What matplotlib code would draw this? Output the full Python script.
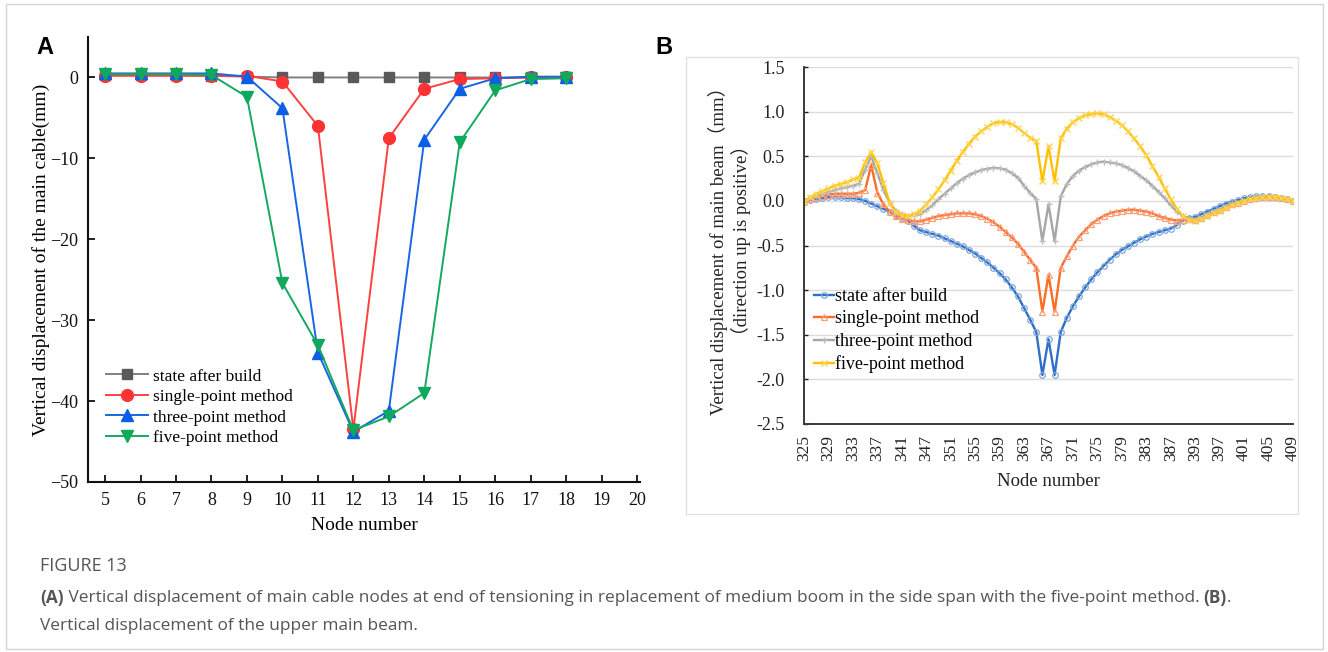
import numpy as np
import matplotlib
matplotlib.use('Agg')
import matplotlib.pyplot as plt
from matplotlib.patches import Rectangle

# ---------------- data: panel A ----------------
nodes_a = [5, 6, 7, 8, 9, 10, 11, 12, 13, 14, 15, 16, 17, 18]
a_state = [0.3, 0.3, 0.3, 0.2, 0.1, 0.0, 0.0, 0.0, 0.0, 0.0, 0.0, 0.0, 0.0, 0.0]
a_single = [0.2, 0.2, 0.2, 0.2, 0.2, -0.5, -6.0, -43.5, -7.5, -1.4, -0.2, -0.1, 0.0, 0.0]
a_three = [0.5, 0.5, 0.5, 0.5, 0.1, -3.8, -34.0, -43.8, -41.2, -7.7, -1.4, -0.1, 0.1, 0.1]
a_five = [0.4, 0.4, 0.4, 0.3, -2.4, -25.4, -33.1, -43.6, -41.9, -39.0, -8.0, -1.6, -0.2, -0.1]
a_labels = ['state after build', 'single-point method', 'three-point method', 'five-point method']

# ---------------- data: panel B ----------------
nodes_b = (list(range(325, 342)) + [343, 344, 345] + list(range(347, 388))
           + [389, 390, 391] + list(range(393, 410)))
b_ticklabels = ['325', '329', '333', '337', '341', '347', '351', '355', '359', '363', '367',
                '371', '375', '379', '383', '387', '393', '397', '401', '405', '409']
b_state = [0.00, 0.01, 0.02, 0.03, 0.04, 0.04, 0.04, 0.03, 0.03, 0.02,
           0.00, -0.03, -0.06, -0.09, -0.12, -0.16, -0.19, -0.22, -0.28, -0.33,
           -0.35, -0.37, -0.39, -0.42, -0.45, -0.48, -0.51, -0.55, -0.59, -0.64,
           -0.69, -0.75, -0.81, -0.88, -0.97, -1.07, -1.20, -1.33, -1.47, -1.95,
           -1.55, -1.95, -1.47, -1.31, -1.18, -1.07, -0.97, -0.88, -0.80, -0.73,
           -0.66, -0.60, -0.55, -0.51, -0.47, -0.43, -0.40, -0.37, -0.35, -0.33,
           -0.31, -0.27, -0.22, -0.19, -0.18, -0.15, -0.12, -0.09, -0.06, -0.03,
           -0.01, 0.01, 0.03, 0.04, 0.05, 0.05, 0.05, 0.04, 0.03, 0.02, 0.00]
b_single = [-0.01, 0.02, 0.04, 0.06, 0.07, 0.08, 0.08, 0.08, 0.08, 0.09,
            0.12, 0.40, 0.09, -0.04, -0.12, -0.17, -0.20, -0.21, -0.23, -0.23,
            -0.21, -0.19, -0.17, -0.16, -0.15, -0.14, -0.14, -0.14, -0.15, -0.17,
            -0.20, -0.24, -0.29, -0.35, -0.41, -0.48, -0.57, -0.66, -0.75, -1.24,
            -0.83, -1.24, -0.75, -0.62, -0.50, -0.40, -0.33, -0.26, -0.21, -0.17,
            -0.14, -0.12, -0.11, -0.10, -0.10, -0.11, -0.12, -0.14, -0.17, -0.19,
            -0.21, -0.22, -0.21, -0.20, -0.21, -0.19, -0.16, -0.13, -0.10, -0.07,
            -0.04, -0.02, 0.00, 0.02, 0.03, 0.04, 0.045, 0.04, 0.03, 0.02, 0.00]
b_three = [0.00, 0.03, 0.06, 0.08, 0.10, 0.12, 0.14, 0.15, 0.17, 0.19,
           0.35, 0.50, 0.31, 0.12, -0.02, -0.11, -0.15, -0.165, -0.16, -0.15,
           -0.10, -0.05, 0.02, 0.08, 0.14, 0.20, 0.25, 0.29, 0.32, 0.345,
           0.36, 0.37, 0.365, 0.35, 0.31, 0.26, 0.17, 0.09, 0.02, -0.45,
           -0.04, -0.45, 0.05, 0.19, 0.28, 0.34, 0.38, 0.41, 0.43, 0.44,
           0.43, 0.42, 0.40, 0.37, 0.33, 0.28, 0.23, 0.17, 0.10, 0.03,
           -0.05, -0.12, -0.17, -0.20, -0.21, -0.19, -0.16, -0.13, -0.10, -0.07,
           -0.04, -0.02, 0.00, 0.02, 0.03, 0.04, 0.045, 0.04, 0.03, 0.02, 0.00]
b_five = [-0.01, 0.04, 0.08, 0.11, 0.14, 0.17, 0.19, 0.21, 0.24, 0.26,
          0.43, 0.55, 0.42, 0.20, -0.02, -0.12, -0.16, -0.165, -0.15, -0.11,
          -0.04, 0.04, 0.13, 0.23, 0.34, 0.45, 0.55, 0.64, 0.72, 0.78,
          0.83, 0.87, 0.885, 0.88, 0.86, 0.82, 0.76, 0.71, 0.67, 0.22,
          0.61, 0.22, 0.70, 0.81, 0.88, 0.93, 0.96, 0.975, 0.98, 0.97,
          0.94, 0.90, 0.85, 0.78, 0.70, 0.61, 0.51, 0.39, 0.27, 0.14,
          0.02, -0.09, -0.17, -0.21, -0.22, -0.20, -0.17, -0.14, -0.11, -0.08,
          -0.05, -0.02, 0.00, 0.02, 0.03, 0.04, 0.045, 0.04, 0.03, 0.02, 0.00]
b_labels = ['state after build', 'single-point method', 'three-point method', 'five-point method']

caption_title = 'FIGURE 13'
caption_parts = [('(A)', 'bold'),
                 (' Vertical displacement of main cable nodes at end of tensioning in replacement of medium boom in the side span with the five-point method. ', 'normal'),
                 ('(B)', 'bold'), ('.', 'normal')]
caption_line2 = 'Vertical displacement of the upper main beam.'

# ---------------- figure ----------------
W, H = 1328, 652
fig = plt.figure(figsize=(W / 100, H / 100), dpi=100)
fig.patch.set_facecolor('white')


def fx(px):
    return px / W


def fy(py):
    return 1 - py / H


SERIF = ['Liberation Serif', 'DejaVu Serif']
plt.rcParams['font.family'] = SERIF

# outer border and panel-B frame
fig.add_artist(Rectangle((fx(6), fy(649)), fx(1323) - fx(6), fy(4) - fy(649),
                         transform=fig.transFigure, fill=False, ec='#d4d4d4', lw=1.0))
fig.add_artist(Rectangle((fx(686), fy(514)), fx(1298) - fx(686), fy(57) - fy(514),
                         transform=fig.transFigure, fill=False, ec='#e2e2e2', lw=1.0))

# ---------------- panel A ----------------
axA = fig.add_axes([fx(88), fy(482), fx(640) - fx(88), fy(37) - fy(482)])
styleA = [
    dict(color='#808080', marker='s', mfc='#5a5a5a', mec='#5a5a5a', ms=7.5),
    dict(color='#ff4040', marker='o', mfc='#ff3333', mec='#ff3333', ms=8.5),
    dict(color='#1a66e0', marker='^', mfc='#0a5fe6', mec='#0a5fe6', ms=9),
    dict(color='#14a862', marker='v', mfc='#0fa85c', mec='#0fa85c', ms=9),
]
for vals, lab, st in zip([a_state, a_single, a_three, a_five], a_labels, styleA):
    axA.plot(nodes_a, vals, lw=1.4, label=lab, **st)
axA.set_xlim(4.52, 20.08)
axA.set_ylim(-50, 5)
axA.set_xticks(range(5, 21))
axA.set_yticks([0, -10, -20, -30, -40, -50])
for s in ['top', 'right']:
    axA.spines[s].set_visible(False)
for s in ['left', 'bottom']:
    axA.spines[s].set_linewidth(1.5)
    axA.spines[s].set_color('#111111')
axA.tick_params(direction='in', length=5, width=1.3, labelsize=13, pad=7, colors='#111111')
axA.set_xlabel('Node number', fontsize=14, labelpad=6)
axA.set_ylabel('Vertical displacement of the main cable(mm)', fontsize=14, labelpad=0)
legA = axA.legend(loc='lower left', bbox_to_anchor=((106 - 88) / 552, (482 - 446) / 445),
                  frameon=False, fontsize=12.5, handlelength=2.4, handletextpad=0.3,
                  labelspacing=0.25, borderpad=0, borderaxespad=0)
fig.text(fx(36), fy(47), 'A', fontsize=17, fontweight='bold', family='Liberation Sans',
         ha='left', va='center')

# ---------------- panel B ----------------
axB = fig.add_axes([fx(804), fy(424), fx(1293) - fx(804), fy(67) - fy(424)])
xb = np.arange(len(nodes_b))
styleB = [
    dict(color='#2f6fc6', marker='o', mfc='none', mec='#7ea7dd', ms=4, mew=0.9),
    dict(color='#fb6c25', marker='^', mfc='none', mec='#fba07a', ms=4, mew=0.9),
    dict(color='#a6a6a6', marker='+', mfc='none', mec='#bdbdbd', ms=5, mew=1.0),
    dict(color='#ffc000', marker='x', mfc='none', mec='#ffd34d', ms=4, mew=1.0),
]
for vals, lab, st in zip([b_state, b_single, b_three, b_five], b_labels, styleB):
    axB.plot(xb, vals, lw=1.7, label=lab, **st)
axB.set_xlim(0, len(nodes_b) - 1)
axB.set_ylim(-2.5, 1.5)
yt = [1.5, 1.0, 0.5, 0.0, -0.5, -1.0, -1.5, -2.0, -2.5]
axB.set_yticks(yt)
axB.set_yticklabels(['%.1f' % v for v in yt])
tick_idx = [nodes_b.index(int(t)) for t in b_ticklabels]
axB.set_xticks(tick_idx)
axB.set_xticklabels(b_ticklabels, rotation=90)
axB.grid(axis='y', color='#dcdcdc', lw=1.0)
axB.set_axisbelow(True)
for s in ['top', 'right']:
    axB.spines[s].set_visible(False)
for s in ['left', 'bottom']:
    axB.spines[s].set_linewidth(1.4)
    axB.spines[s].set_color('#3a3a3a')
axB.tick_params(axis='y', direction='in', length=3, width=1, labelsize=13, pad=14, colors='#222222')
axB.tick_params(axis='x', length=0, labelsize=12.5, pad=8, colors='#222222')
fig.text(fx(1048), fy(482), 'Node number', fontsize=13.5, ha='center', va='center', color='#222222')
fig.text(fx(718), fy(246), 'Vertical displacement of main beam（mm）', rotation=90,
         fontsize=13.5, ha='center', va='center', color='#222222',
         family=['Liberation Serif', 'Noto Sans CJK SC'])
fig.text(fx(741), fy(240), '（direction up is positive）', rotation=90,
         fontsize=13.5, ha='center', va='center', color='#222222',
         family=['Liberation Serif', 'Noto Sans CJK SC'])
legB = axB.legend(loc='upper left', bbox_to_anchor=((814 - 804) / 489, (424 - 288) / 357),
                  frameon=False, fontsize=13, handlelength=1.1, handletextpad=0.05,
                  labelspacing=0.3, borderpad=0, borderaxespad=0)
fig.text(fx(655), fy(47), 'B', fontsize=17, fontweight='bold', family='Liberation Sans',
         ha='left', va='center')

# ---------------- caption ----------------
CAP = 'Open Sans'
capc = '#555555'
csize = 12.4
fig.text(fx(40), fy(566), caption_title, fontsize=13, family=CAP, color=capc,
         ha='left', va='center')
fig.canvas.draw()
renderer = fig.canvas.get_renderer()
x = 40
for txt, wt in caption_parts:
    t = fig.text(fx(x), fy(598), txt, fontsize=csize, family=CAP, color=capc, fontweight=wt,
                 ha='left', va='center')
    bb = t.get_window_extent(renderer)
    x += bb.width
fig.text(fx(40), fy(626), caption_line2, fontsize=csize, family=CAP, color=capc,
         ha='left', va='center')

fig.savefig('out.png', dpi=100, facecolor='white')
